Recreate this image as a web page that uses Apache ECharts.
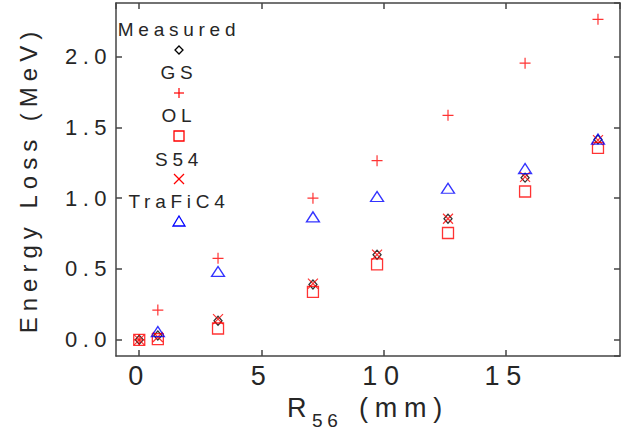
<!DOCTYPE html>
<html>
<head>
    <meta charset="utf-8">
    <title>Energy Loss vs R56</title>
    <style>
        #container text { letter-spacing: 0.25em; }
    </style>
</head>
<body style="margin: 0">
<div id="container" style="width: 623px; height: 435px"></div>

<script type="text/javascript" src="https://cdn.jsdelivr.net/npm/echarts@6/dist/echarts.min.js"></script>

<script type="text/javascript">
    // R56 positions (mm)
    var r56 = [0, 0.76, 3.22, 7.1, 9.72, 12.62, 15.77, 18.75];
    // energy loss (MeV)
    var measured = [0, 0.03, 0.135, 0.39, 0.6, 0.855, 1.145, 1.415];
    var gs = [0, 0.21, 0.575, 1.0, 1.265, 1.585, 1.953, 2.263];
    var ol = [0, 0.005, 0.08, 0.338, 0.533, 0.754, 1.047, 1.355];
    var s54 = [0, 0.02, 0.146, 0.397, 0.601, 0.855, 1.15, 1.41];
    var trafic = [null, 0.058, 0.483, 0.868, 1.012, 1.07, 1.209, 1.417];
    var names = ['Measured', 'GS', 'OL', 'S54', 'TraFiC4'];

    function pairs(ys) {
        var out = [];
        for (var i = 0; i < r56.length; i++) {
            if (ys[i] != null) out.push([r56[i], ys[i]]);
        }
        return out;
    }

    var FONT = 'Liberation Sans';
    var TXT = '#262626';
    var FRAME = '#444';

    var chart = echarts.init(document.getElementById('container'), null, {renderer: 'svg'});

    var plusPath = 'path://M5,0L5,10M0,5L10,5';
    var crossPath = 'path://M0,0L10,10M10,0L0,10';

    function scatter(name, ys, symbol, size, color, bw) {
        return {
            name: name,
            type: 'scatter',
            xAxisIndex: 0,
            yAxisIndex: 0,
            symbol: symbol,
            symbolSize: size,
            itemStyle: {color: 'rgba(0,0,0,0)', borderColor: color, borderWidth: bw},
            emphasis: {disabled: true},
            data: pairs(ys)
        };
    }

    var xMin = -0.95, xMax = 19.65, yMin = -0.115, yMax = 2.378;

    var baseX = {
        type: 'value', min: xMin, max: xMax, splitNumber: 5,
        splitLine: {show: false},
        axisLine: {onZero: false, lineStyle: {color: FRAME, width: 1.5}},
        axisTick: {inside: true, length: 6, lineStyle: {color: FRAME, width: 1.5}}
    };
    var baseY = {
        type: 'value', min: yMin, max: yMax, splitNumber: 5,
        splitLine: {show: false},
        axisLine: {onZero: false, lineStyle: {color: FRAME, width: 1.5}},
        axisTick: {inside: true, length: 6, lineStyle: {color: FRAME, width: 1.5}}
    };

    // legend: name above marker, stacked in the upper left
    var lx = 179;
    var legendGraphic = [];
    var rows = [29, 72, 115, 159, 201];
    var marks = [50, 93, 136, 179, 221];
    for (var i = 0; i < names.length; i++) {
        legendGraphic.push({
            type: 'text', x: lx, y: rows[i],
            style: {text: names[i], align: 'center', verticalAlign: 'middle',
                font: '19px "' + FONT + '"', fill: TXT}
        });
    }
    legendGraphic.push(
        {type: 'polygon', shape: {points: [[lx, marks[0] - 4], [lx + 4, marks[0]], [lx, marks[0] + 4], [lx - 4, marks[0]]]},
            style: {fill: 'none', stroke: '#000', lineWidth: 1.3}},
        {type: 'polyline', shape: {points: [[lx - 5, marks[1]], [lx + 5, marks[1]]]}, style: {stroke: '#f00', lineWidth: 1.2}},
        {type: 'polyline', shape: {points: [[lx, marks[1] - 5], [lx, marks[1] + 5]]}, style: {stroke: '#f00', lineWidth: 1.2}},
        {type: 'rect', shape: {x: lx - 5, y: marks[2] - 5, width: 10, height: 10}, style: {fill: 'none', stroke: '#f00', lineWidth: 1.3}},
        {type: 'polyline', shape: {points: [[lx - 5, marks[3] - 5], [lx + 5, marks[3] + 5]]}, style: {stroke: '#f00', lineWidth: 1.2}},
        {type: 'polyline', shape: {points: [[lx + 5, marks[3] - 5], [lx - 5, marks[3] + 5]]}, style: {stroke: '#f00', lineWidth: 1.2}},
        {type: 'polygon', shape: {points: [[lx, marks[4] - 5], [lx + 6, marks[4] + 5], [lx - 6, marks[4] + 5]]},
            style: {fill: 'none', stroke: '#00f', lineWidth: 1.3}}
    );

    var option = {
        backgroundColor: '#fff',
        animation: false,
        grid: {left: 116, right: 3, top: 3, bottom: 78},
        xAxis: [
            Object.assign({}, baseX, {
                position: 'bottom',
                name: '{r|R}{s|56}{m|(mm)}',
                nameLocation: 'middle',
                nameGap: 37,
                nameTextStyle: {
                    rich: {
                        r: {fontFamily: FONT, fontSize: 27, color: TXT, lineHeight: 30, verticalAlign: 'top', width: 25, align: 'left'},
                        s: {fontFamily: FONT, fontSize: 19, color: TXT, lineHeight: 36, verticalAlign: 'bottom', width: 47, align: 'left'},
                        m: {fontFamily: FONT, fontSize: 27, color: TXT, lineHeight: 30, verticalAlign: 'top', width: 90, align: 'left'}
                    }
                },
                axisLabel: {
                    showMinLabel: false, showMaxLabel: false,
                    fontFamily: FONT, fontSize: 27, color: TXT, margin: 6,
                    formatter: function (v) { return String(v); }
                }
            }),
            Object.assign({}, baseX, {
                position: 'top',
                axisLabel: {show: false}
            })
        ],
        yAxis: [
            Object.assign({}, baseY, {
                position: 'left',
                name: 'Energy Loss (MeV)',
                nameLocation: 'middle',
                nameGap: 76,
                nameTextStyle: {fontFamily: FONT, fontSize: 24, color: TXT},
                axisLabel: {
                    showMinLabel: false, showMaxLabel: false,
                    fontFamily: FONT, fontSize: 22, color: TXT, margin: 4,
                    formatter: function (v) { return v.toFixed(1); }
                }
            }),
            Object.assign({}, baseY, {
                position: 'right',
                axisLabel: {show: false}
            })
        ],
        graphic: legendGraphic,
        series: [
            scatter('Measured', measured, 'diamond', [8, 9], '#000', 1.3),
            scatter('GS', gs, plusPath, 11, '#f00', 1.2),
            scatter('OL', ol, 'rect', 11, '#f00', 1.3),
            scatter('S54', s54, crossPath, 10, '#f00', 1.2),
            scatter('TraFiC4', trafic, 'triangle', [13, 10], '#00f', 1.3)
        ]
    };

    chart.setOption(option);
</script>
</body>
</html>
